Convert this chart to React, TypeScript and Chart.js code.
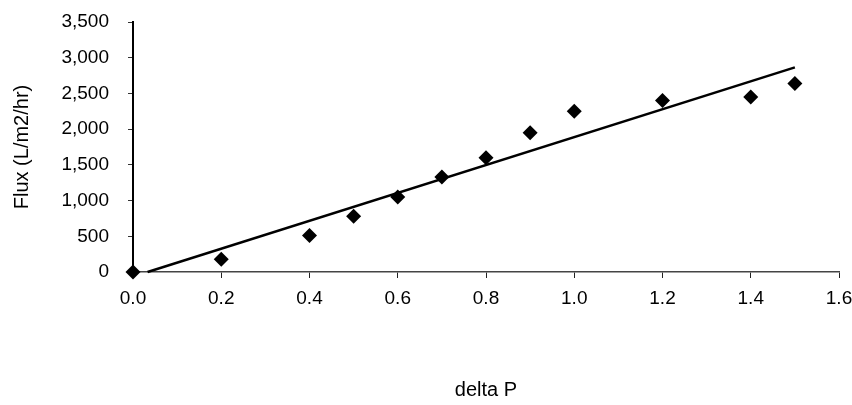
import React, { useEffect, useRef } from "react";
import { Chart, registerables } from "chart.js";

Chart.register(...registerables);

const deltaP = [0.0, 0.2, 0.4, 0.5, 0.6, 0.7, 0.8, 0.9, 1.0, 1.2, 1.4, 1.5];
const flux = [0, 180, 510, 780, 1050, 1330, 1600, 1950, 2250, 2400, 2450, 2640];
const trendX = [0.033, 1.5];
const trendY = [0, 2865];
const yTicks = [0, 500, 1000, 1500, 2000, 2500, 3000, 3500];
const xTicks = [0, 0.2, 0.4, 0.6, 0.8, 1.0, 1.2, 1.4, 1.6];

const FONT = "'Liberation Sans', Arial, sans-serif";

export default function App() {
  const ref = useRef<HTMLCanvasElement | null>(null);
  useEffect(() => {
    document.body.style.margin = "0";
    const ctx = ref.current!;
    const chart = new Chart(ctx, {
      type: "scatter",
      data: {
        datasets: [
          {
            label: "Trend",
            data: trendX.map((x, i) => ({ x, y: trendY[i] })),
            showLine: true,
            borderColor: "#000",
            borderWidth: 2.5,
            pointRadius: 0,
            order: 2,
          },
          {
            label: "Flux",
            data: deltaP.map((x, i) => ({ x, y: flux[i] })),
            pointStyle: "rectRot",
            pointRadius: 7.5,
            backgroundColor: "#000",
            borderColor: "#000",
            borderWidth: 0,
            order: 1,
          },
        ],
      },
      options: {
        responsive: false,
        animation: false,
        clip: false,
        layout: { autoPadding: false, padding: { top: 22, right: 13, left: 0, bottom: 0 } },
        plugins: { legend: { display: false }, tooltip: { enabled: false } },
        scales: {
          x: {
            type: "linear",
            min: xTicks[0],
            max: xTicks[xTicks.length - 1],
            afterBuildTicks: (s: any) => {
              s.ticks = xTicks.map((v) => ({ value: v }));
            },
            afterFit: (s: any) => {
              s.height = 133;
              s.paddingLeft = 0;
              s.paddingRight = 0;
            },
            border: { display: true, color: "#444", width: 1.5 },
            grid: { drawOnChartArea: false, drawTicks: true, tickLength: 6, color: "#222", lineWidth: 1 },
            ticks: {
              color: "#000",
              padding: 9,
              maxRotation: 0,
              font: { family: FONT, size: 19 },
              callback: (v: any) => Number(v).toFixed(1),
            },
            title: {
              display: true,
              text: "delta P",
              color: "#000",
              font: { family: FONT, size: 20 },
              padding: { top: 4, bottom: 3 },
            },
          },
          y: {
            min: yTicks[0],
            max: yTicks[yTicks.length - 1],
            afterBuildTicks: (s: any) => {
              s.ticks = yTicks.map((v) => ({ value: v }));
            },
            afterFit: (s: any) => {
              s.width = 133;
              s.paddingTop = 0;
              s.paddingBottom = 0;
            },
            border: { display: true, color: "#000", width: 2 },
            grid: { drawOnChartArea: false, drawTicks: true, tickLength: 5, color: "#333", lineWidth: 1 },
            ticks: {
              color: "#000",
              padding: 19,
              font: { family: FONT, size: 19 },
              callback: (v: any) => Number(v).toLocaleString("en-US"),
            },
            title: {
              display: true,
              text: "Flux (L/m2/hr)",
              color: "#000",
              font: { family: FONT, size: 20 },
              padding: { top: 10, bottom: 0 },
            },
          },
        },
      },
    });
    return () => chart.destroy();
  }, []);
  return (
    <div style={{ width: 852, height: 405, background: "#fff" }}>
      <canvas ref={ref} width={852} height={405} />
    </div>
  );
}
